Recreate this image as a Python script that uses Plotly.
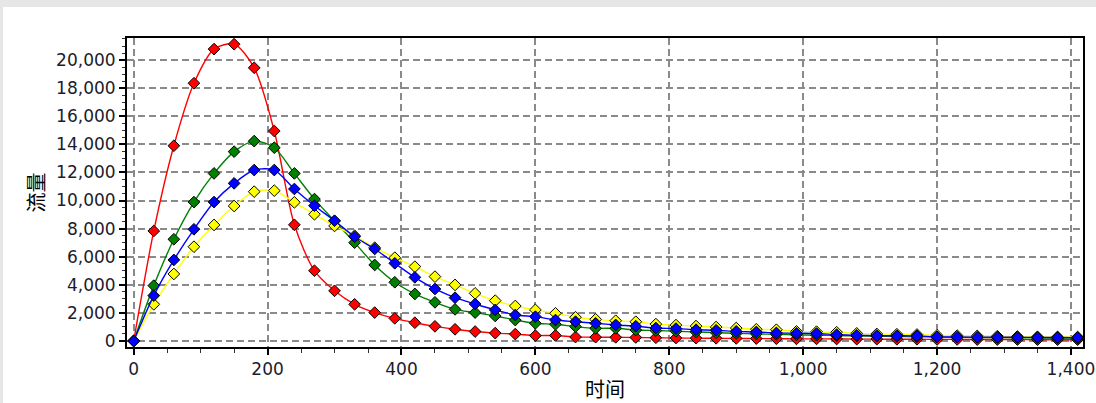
import plotly.graph_objects as go

# time axis (step 30)
time = list(range(0, 1411, 30))

red = [0, 7830, 13900, 18350, 20780, 21130, 19450, 14950, 8270, 5000,
       3570, 2610, 2020, 1610, 1300, 1040, 830, 670, 560, 490,
       380, 390, 280, 270, 260, 250, 230, 210, 200, 190,
       180, 170, 160, 150, 150, 140, 130, 130, 120, 120,
       110, 110, 100, 100, 100, 90, 90, 90]

green = [0, 3940, 7240, 9890, 11930, 13480, 14230, 13760, 11930, 10100,
         8540, 7000, 5410, 4180, 3350, 2750, 2250, 2020, 1780, 1490,
         1260, 1190, 1020, 900, 900, 780, 740, 690, 640, 590,
         540, 500, 470, 440, 410, 380, 360, 340, 320, 300,
         280, 270, 250, 240, 230, 220, 210, 200]

yellow = [0, 2610, 4770, 6710, 8260, 9610, 10630, 10700, 9870, 9020,
          8190, 7490, 6640, 5930, 5290, 4580, 3990, 3390, 2870, 2490,
          2210, 1970, 1690, 1540, 1440, 1370, 1200, 1130, 1060, 990,
          920, 830, 800, 680, 660, 620, 540, 500, 480, 460,
          400, 380, 360, 340, 320, 300, 290, 280]

blue = [0, 3230, 5770, 7950, 9890, 11220, 12170, 12170, 10820, 9630,
        8560, 7420, 6550, 5530, 4530, 3700, 3080, 2630, 2210, 1850,
        1730, 1490, 1370, 1260, 1140, 1050, 920, 880, 800, 760,
        680, 640, 570, 550, 530, 450, 400, 380, 370, 360,
        290, 280, 270, 270, 260, 250, 250, 240]

series = [("red", red, "#ff0000"), ("green", green, "#008000"),
          ("yellow", yellow, "#ffff00"), ("blue", blue, "#0000ff")]

x_title = "时间"
y_title = "流量"

fig = go.Figure()
for name, vals, col in series:
    fig.add_trace(go.Scatter(
        x=time, y=vals, name=name, mode="lines+markers",
        line=dict(color=col, width=1.4, shape="spline", smoothing=0.8),
        marker=dict(symbol="diamond", size=9, color=col,
                    line=dict(color="#000000", width=1)),
        showlegend=False))

tickfont = dict(family="DejaVu Sans", size=17, color="#1c1c2c")
grid = dict(showgrid=True, gridcolor="#8a8a8a", gridwidth=1.5, griddash="7px,4px")
title_font = dict(family="Noto Sans CJK SC", size=20, color="#000")

fig.update_xaxes(range=[-10, 1418], dtick=200, tick0=0, tickformat=",d",
                 ticks="outside", ticklen=6, tickwidth=1.5, tickcolor="#000",
                 minor=dict(dtick=50, ticklen=4, tickwidth=1, tickcolor="#333", ticks="outside", showgrid=False),
                 showline=True, linecolor="#000", linewidth=2, mirror=True,
                 zeroline=False, tickfont=tickfont, automargin=False,
                 title=dict(text=x_title, font=title_font, standoff=6),
                 **grid)
fig.update_yaxes(range=[-430, 21570], dtick=2000, tick0=0, tickformat=",d",
                 ticks="outside", ticklen=6, tickwidth=1.5, tickcolor="#000",
                 minor=dict(dtick=500, ticklen=3, tickwidth=1, tickcolor="#333", ticks="outside", showgrid=False),
                 showline=True, linecolor="#000", linewidth=2, mirror=True,
                 zeroline=False, tickfont=tickfont, automargin=False,
                 title=dict(text=y_title, font=title_font, standoff=6),
                 **grid)

fig.update_layout(
    width=1096, height=403,
    margin=dict(l=127, r=13, t=38, b=56),
    paper_bgcolor="#ffffff", plot_bgcolor="#ffffff",
    shapes=[
        dict(type="rect", xref="paper", yref="paper",
             x0=-127/956, x1=(1096-127)/956, y0=1 + 31/309, y1=1 + 40/309,
             fillcolor="#e6e6e6", line=dict(width=0), layer="above"),
        dict(type="rect", xref="paper", yref="paper",
             x0=-127/956, x1=-124/956, y0=-56/309, y1=1 + 40/309,
             fillcolor="#e6e6e6", line=dict(width=0), layer="above"),
    ],
)

fig.write_html("out.html")
